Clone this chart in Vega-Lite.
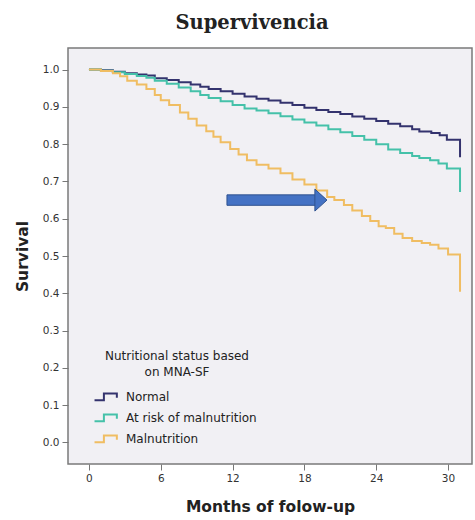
{
  "$schema": "https://vega.github.io/schema/vega-lite/v6.json",
  "width": 404,
  "height": 416,
  "autosize": {"type": "none"},
  "padding": {"left": 68, "top": 48, "right": 3, "bottom": 56},
  "background": "#ffffff",
  "title": {
    "text": "Supervivencia",
    "font": "DejaVu Serif",
    "fontSize": 19.5,
    "fontWeight": "bold",
    "color": "#222222",
    "anchor": "middle",
    "dx": -18,
    "offset": 15
  },
  "config": {
    "view": {"stroke": "#7a7a7a", "strokeWidth": 1.5, "fill": "#f1f0f4"},
    "axis": {
      "domain": false,
      "grid": false,
      "tickColor": "#777777",
      "tickSize": 6,
      "labelFont": "DejaVu Sans",
      "labelFontSize": 10.5,
      "labelColor": "#333333",
      "labelPadding": 3,
      "titleFont": "DejaVu Sans",
      "titleFontSize": 15.5,
      "titleFontWeight": "bold",
      "titleColor": "#222222"
    },
    "legend": {
      "labelFont": "DejaVu Sans",
      "titleFont": "DejaVu Sans"
    }
  },
  "layer": [
    {
      "data": {
        "values": [
          {"month": 0, "survival": 1.0, "group": "Normal"},
          {"month": 1, "survival": 0.998, "group": "Normal"},
          {"month": 2, "survival": 0.994, "group": "Normal"},
          {"month": 3, "survival": 0.99, "group": "Normal"},
          {"month": 4, "survival": 0.987, "group": "Normal"},
          {"month": 4.8, "survival": 0.984, "group": "Normal"},
          {"month": 5.5, "survival": 0.977, "group": "Normal"},
          {"month": 6.5, "survival": 0.972, "group": "Normal"},
          {"month": 7.5, "survival": 0.966, "group": "Normal"},
          {"month": 8.5, "survival": 0.96, "group": "Normal"},
          {"month": 9.3, "survival": 0.954, "group": "Normal"},
          {"month": 10, "survival": 0.948, "group": "Normal"},
          {"month": 11, "survival": 0.942, "group": "Normal"},
          {"month": 12, "survival": 0.935, "group": "Normal"},
          {"month": 13, "survival": 0.928, "group": "Normal"},
          {"month": 14, "survival": 0.922, "group": "Normal"},
          {"month": 15, "survival": 0.917, "group": "Normal"},
          {"month": 16, "survival": 0.911, "group": "Normal"},
          {"month": 17, "survival": 0.905, "group": "Normal"},
          {"month": 18, "survival": 0.898, "group": "Normal"},
          {"month": 19, "survival": 0.892, "group": "Normal"},
          {"month": 20, "survival": 0.886, "group": "Normal"},
          {"month": 21, "survival": 0.881, "group": "Normal"},
          {"month": 22, "survival": 0.874, "group": "Normal"},
          {"month": 23, "survival": 0.868, "group": "Normal"},
          {"month": 24, "survival": 0.862, "group": "Normal"},
          {"month": 25, "survival": 0.855, "group": "Normal"},
          {"month": 26, "survival": 0.848, "group": "Normal"},
          {"month": 27, "survival": 0.84, "group": "Normal"},
          {"month": 27.6, "survival": 0.834, "group": "Normal"},
          {"month": 28.6, "survival": 0.83, "group": "Normal"},
          {"month": 29.3, "survival": 0.824, "group": "Normal"},
          {"month": 29.9, "survival": 0.812, "group": "Normal"},
          {"month": 31, "survival": 0.765, "group": "Normal"},

          {"month": 0, "survival": 1.0, "group": "At risk of malnutrition"},
          {"month": 1, "survival": 0.997, "group": "At risk of malnutrition"},
          {"month": 2, "survival": 0.993, "group": "At risk of malnutrition"},
          {"month": 3, "survival": 0.988, "group": "At risk of malnutrition"},
          {"month": 4, "survival": 0.983, "group": "At risk of malnutrition"},
          {"month": 4.8, "survival": 0.978, "group": "At risk of malnutrition"},
          {"month": 5.5, "survival": 0.97, "group": "At risk of malnutrition"},
          {"month": 6.5, "survival": 0.962, "group": "At risk of malnutrition"},
          {"month": 7.5, "survival": 0.952, "group": "At risk of malnutrition"},
          {"month": 8.5, "survival": 0.942, "group": "At risk of malnutrition"},
          {"month": 9.3, "survival": 0.932, "group": "At risk of malnutrition"},
          {"month": 10, "survival": 0.924, "group": "At risk of malnutrition"},
          {"month": 11, "survival": 0.915, "group": "At risk of malnutrition"},
          {"month": 12, "survival": 0.905, "group": "At risk of malnutrition"},
          {"month": 13, "survival": 0.896, "group": "At risk of malnutrition"},
          {"month": 14, "survival": 0.89, "group": "At risk of malnutrition"},
          {"month": 15, "survival": 0.883, "group": "At risk of malnutrition"},
          {"month": 16, "survival": 0.875, "group": "At risk of malnutrition"},
          {"month": 17, "survival": 0.866, "group": "At risk of malnutrition"},
          {"month": 18, "survival": 0.858, "group": "At risk of malnutrition"},
          {"month": 19, "survival": 0.85, "group": "At risk of malnutrition"},
          {"month": 20, "survival": 0.84, "group": "At risk of malnutrition"},
          {"month": 21, "survival": 0.832, "group": "At risk of malnutrition"},
          {"month": 22, "survival": 0.822, "group": "At risk of malnutrition"},
          {"month": 23, "survival": 0.812, "group": "At risk of malnutrition"},
          {"month": 24, "survival": 0.8, "group": "At risk of malnutrition"},
          {"month": 25, "survival": 0.786, "group": "At risk of malnutrition"},
          {"month": 26, "survival": 0.776, "group": "At risk of malnutrition"},
          {"month": 27, "survival": 0.768, "group": "At risk of malnutrition"},
          {"month": 27.6, "survival": 0.763, "group": "At risk of malnutrition"},
          {"month": 28.5, "survival": 0.757, "group": "At risk of malnutrition"},
          {"month": 29.2, "survival": 0.748, "group": "At risk of malnutrition"},
          {"month": 29.9, "survival": 0.735, "group": "At risk of malnutrition"},
          {"month": 31, "survival": 0.672, "group": "At risk of malnutrition"},

          {"month": 0, "survival": 1.0, "group": "Malnutrition"},
          {"month": 1, "survival": 0.996, "group": "Malnutrition"},
          {"month": 2, "survival": 0.99, "group": "Malnutrition"},
          {"month": 2.6, "survival": 0.982, "group": "Malnutrition"},
          {"month": 3.2, "survival": 0.97, "group": "Malnutrition"},
          {"month": 4, "survival": 0.96, "group": "Malnutrition"},
          {"month": 4.8, "survival": 0.948, "group": "Malnutrition"},
          {"month": 5.5, "survival": 0.932, "group": "Malnutrition"},
          {"month": 6, "survival": 0.918, "group": "Malnutrition"},
          {"month": 6.7, "survival": 0.905, "group": "Malnutrition"},
          {"month": 7.6, "survival": 0.885, "group": "Malnutrition"},
          {"month": 8.3, "survival": 0.868, "group": "Malnutrition"},
          {"month": 9, "survival": 0.85, "group": "Malnutrition"},
          {"month": 9.8, "survival": 0.835, "group": "Malnutrition"},
          {"month": 10.4, "survival": 0.82, "group": "Malnutrition"},
          {"month": 11, "survival": 0.805, "group": "Malnutrition"},
          {"month": 11.8, "survival": 0.787, "group": "Malnutrition"},
          {"month": 12.5, "survival": 0.772, "group": "Malnutrition"},
          {"month": 13.2, "survival": 0.757, "group": "Malnutrition"},
          {"month": 14, "survival": 0.745, "group": "Malnutrition"},
          {"month": 15, "survival": 0.735, "group": "Malnutrition"},
          {"month": 16, "survival": 0.722, "group": "Malnutrition"},
          {"month": 17, "survival": 0.705, "group": "Malnutrition"},
          {"month": 18, "survival": 0.692, "group": "Malnutrition"},
          {"month": 19, "survival": 0.676, "group": "Malnutrition"},
          {"month": 19.9, "survival": 0.658, "group": "Malnutrition"},
          {"month": 20.5, "survival": 0.65, "group": "Malnutrition"},
          {"month": 21.3, "survival": 0.637, "group": "Malnutrition"},
          {"month": 22, "survival": 0.622, "group": "Malnutrition"},
          {"month": 22.8, "survival": 0.607, "group": "Malnutrition"},
          {"month": 23.5, "survival": 0.594, "group": "Malnutrition"},
          {"month": 24.2, "survival": 0.58, "group": "Malnutrition"},
          {"month": 24.8, "survival": 0.575, "group": "Malnutrition"},
          {"month": 25.5, "survival": 0.56, "group": "Malnutrition"},
          {"month": 26.2, "survival": 0.548, "group": "Malnutrition"},
          {"month": 27, "survival": 0.54, "group": "Malnutrition"},
          {"month": 27.8, "survival": 0.535, "group": "Malnutrition"},
          {"month": 28.5, "survival": 0.53, "group": "Malnutrition"},
          {"month": 29.2, "survival": 0.52, "group": "Malnutrition"},
          {"month": 30, "survival": 0.504, "group": "Malnutrition"},
          {"month": 31, "survival": 0.404, "group": "Malnutrition"}
        ]
      },
      "mark": {"type": "line", "interpolate": "step-after", "strokeWidth": 2},
      "encoding": {
        "x": {
          "field": "month",
          "type": "quantitative",
          "scale": {"domain": [-1.75, 32], "nice": false, "zero": false},
          "axis": {"values": [0, 6, 12, 18, 24, 30], "title": "Months of folow-up", "titlePadding": 16}
        },
        "y": {
          "field": "survival",
          "type": "quantitative",
          "scale": {"domain": [-0.058, 1.058], "nice": false, "zero": false},
          "axis": {"values": [0, 0.1, 0.2, 0.3, 0.4, 0.5, 0.6, 0.7, 0.8, 0.9, 1.0], "format": ".1f", "title": "Survival", "titlePadding": 12}
        },
        "color": {
          "field": "group",
          "type": "nominal",
          "scale": {
            "domain": ["Normal", "At risk of malnutrition", "Malnutrition"],
            "range": ["#34336e", "#45c1a9", "#f0bd62"]
          },
          "legend": {
            "title": ["Nutritional status based", "on MNA-SF"],
            "orient": "none",
            "legendX": 30,
            "legendY": 303,
            "padding": 0,
            "titleFontSize": 12,
            "titleFontWeight": "normal",
            "titleColor": "#222222",
            "titleAnchor": "middle",
            "titleAlign": "center",
            "titleLineHeight": 16,
            "titlePadding": 10,
            "labelFontSize": 12,
            "labelColor": "#222222",
            "labelOffset": 12,
            "rowPadding": 5,
            "symbolType": "M -1.64 0.45 L -0.3 0.45 L -0.3 -0.5 L 1.55 -0.5 L 1.55 0.1",
            "symbolSize": 196,
            "symbolStrokeWidth": 2,
            "symbolFillColor": "transparent"
          }
        }
      }
    },
    {
      "data": {"values": [{"x1": 11.53, "x2": 19.0, "y1": 0.636, "y2": 0.664}]},
      "mark": {"type": "rect", "color": "#4472c4", "stroke": "#2f528f", "strokeWidth": 1},
      "encoding": {
        "x": {"field": "x1", "type": "quantitative"},
        "x2": {"field": "x2"},
        "y": {"field": "y1", "type": "quantitative"},
        "y2": {"field": "y2"}
      }
    },
    {
      "data": {"values": [{"x": 19.38, "y": 0.65}]},
      "mark": {
        "type": "point",
        "filled": true,
        "shape": "M -0.55 -1 L 0.55 0 L -0.55 1 Z",
        "size": 484,
        "color": "#4472c4",
        "stroke": "#2f528f",
        "strokeWidth": 1,
        "opacity": 1
      },
      "encoding": {
        "x": {"field": "x", "type": "quantitative"},
        "y": {"field": "y", "type": "quantitative"}
      }
    }
  ]
}
